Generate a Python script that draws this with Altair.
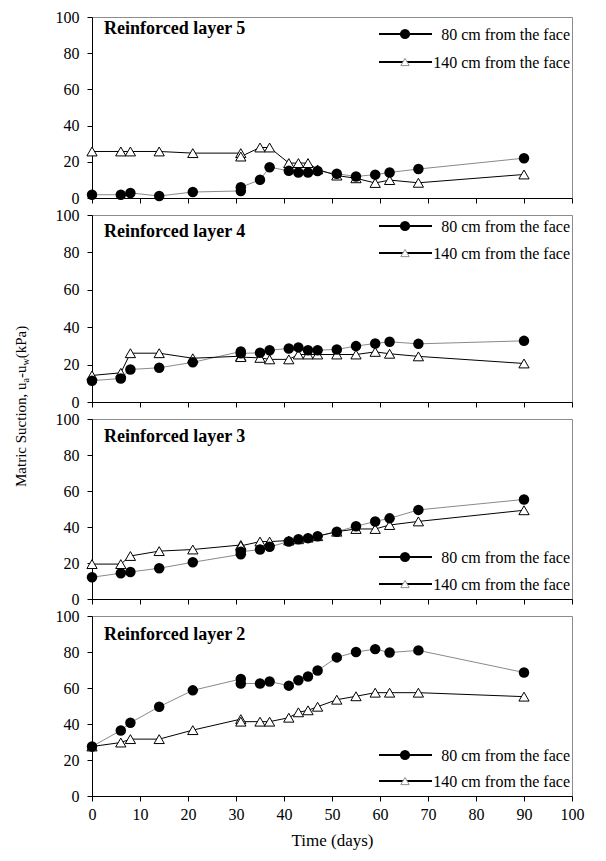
import altair as alt
import pandas as pd

FONT = "Liberation Serif"

days = [0, 6, 8, 14, 21, 31, 31, 35, 37, 41, 43, 45, 47, 51, 55, 59, 62, 68, 90]

l5_80 = [1.8, 1.8, 2.8, 1.1, 3.3, 3.9, 5.9, 10.1, 17.0, 15.0, 14.1, 14.1, 14.9, 13.4, 11.9, 12.9, 14.1, 16.0, 22.0]
l5_140 = [25.7, 25.7, 25.7, 25.7, 24.8, 24.8, 22.9, 27.9, 27.9, 19.3, 19.3, 19.3, 15.8, 12.4, 10.9, 8.3, 9.9, 8.4, 13.0]

l4_80 = [11.4, 12.6, 17.4, 18.3, 21.2, 27.0, 26.0, 26.3, 27.7, 28.6, 29.2, 27.7, 27.7, 28.1, 29.9, 31.3, 32.2, 31.1, 32.7]
l4_140 = [14.2, 15.6, 26.1, 26.1, 23.4, 24.5, 24.0, 23.6, 22.8, 22.8, 25.4, 25.4, 25.4, 25.4, 25.4, 26.8, 25.8, 24.4, 20.6]

l3_80 = [12.1, 14.3, 15.0, 17.1, 20.4, 24.8, 26.2, 27.5, 29.0, 31.9, 33.2, 33.8, 34.9, 37.4, 40.4, 43.1, 44.8, 49.5, 55.3]
l3_140 = [19.4, 19.4, 23.9, 26.6, 27.5, 30.0, 29.5, 31.9, 31.9, 32.5, 33.2, 34.1, 34.9, 37.4, 38.9, 38.9, 41.1, 43.1, 49.3]

l2_80 = [27.5, 36.4, 40.7, 49.6, 58.7, 65.0, 62.5, 62.5, 63.6, 61.3, 64.3, 66.4, 69.7, 77.0, 80.0, 81.6, 79.7, 80.9, 68.6]
l2_140 = [27.5, 29.7, 31.6, 31.6, 36.6, 42.7, 41.3, 41.3, 41.3, 43.5, 46.5, 47.6, 49.6, 53.5, 55.4, 57.4, 57.4, 57.4, 55.2]

panel_titles = ["Reinforced layer 5", "Reinforced layer 4", "Reinforced layer 3", "Reinforced layer 2"]
legend_labels = ["80 cm from the face", "140 cm from the face"]
x_ticks = list(range(0, 101, 10))
y_ticks = list(range(0, 101, 20))

# y title pieces: (text, font size, is subscript)
ytitle_parts = [("Matric Suction, u", 15, False), ("a", 10, True), ("-u", 15, False),
                ("w", 10, True), ("(kPa)", 15, False)]
# Times/Liberation Serif advance widths (1/1000 em)
W = {"M": 889, "a": 444, "t": 278, "r": 333, "i": 278, "c": 444, " ": 250, "S": 556,
     "u": 500, "o": 500, "n": 500, ",": 250, "-": 333, "w": 722, "(": 333, "k": 500,
     "P": 556, ")": 333}


def text_width(s, size):
    return sum(W.get(ch, 500) for ch in s) * size / 1000.0


def panel(v80, v140, title, height, title_y, leg_y, bottom=False, ytitle_start=None):
    d80 = pd.DataFrame({"day": days, "value": v80, "order": range(len(days))})
    d140 = pd.DataFrame({"day": days, "value": v140, "order": range(len(days))})
    x = alt.X("day:Q", scale=alt.Scale(domain=[0, 100], nice=False),
              axis=alt.Axis(values=x_ticks, labels=bottom, title="Time (days)" if bottom else None,
                            labelFontSize=16, titleFontSize=17, labelPadding=5, titlePadding=10,
                            labelFlush=False))
    y = alt.Y("value:Q", scale=alt.Scale(domain=[0, 100], nice=False),
              axis=alt.Axis(values=y_ticks, title=None, labelFontSize=16, labelPadding=8))
    line80 = alt.Chart(d80).mark_line(color="#8a8a8a", strokeWidth=1).encode(x=x, y=y, order="order:Q")
    line140 = alt.Chart(d140).mark_line(color="black", strokeWidth=1).encode(x=x, y=y, order="order:Q")
    pts140 = alt.Chart(d140).mark_point(shape="triangle-up", size=105, fill="white", fillOpacity=1,
                                        stroke="black", strokeWidth=1, opacity=1).encode(x=x, y=y)
    pts80 = alt.Chart(d80).mark_point(shape="circle", size=110, filled=True, color="black",
                                      opacity=1).encode(x=x, y=y)
    ttl = alt.Chart(pd.DataFrame({"t": [title]})).mark_text(
        align="left", baseline="alphabetic", font=FONT, fontSize=18, fontWeight="bold", color="black"
    ).encode(x=alt.value(12), y=alt.value(title_y), text="t:N")

    layers = [line80, line140, pts140, pts80, ttl]
    # legend
    for i, lab in enumerate(legend_labels):
        ld = pd.DataFrame({"t": [lab]})
        yy = leg_y[i]
        rule = alt.Chart(ld).mark_rule(color="black", strokeWidth=2).encode(
            x=alt.value(287), x2=alt.value(340), y=alt.value(yy))
        if i == 0:
            sym = alt.Chart(ld).mark_point(shape="circle", size=105, filled=True, color="black",
                                           opacity=1).encode(x=alt.value(313), y=alt.value(yy))
        else:
            sym = alt.Chart(ld).mark_point(shape="triangle-up", size=70, fill="white", fillOpacity=1,
                                           stroke="#909090", strokeWidth=1, opacity=1).encode(
                x=alt.value(313), y=alt.value(yy))
        txt = alt.Chart(ld).mark_text(align="right", baseline="middle", font=FONT, fontSize=16,
                                      color="black").encode(x=alt.value(478), y=alt.value(yy + 1),
                                                            text="t:N")
        layers += [rule, sym, txt]

    if ytitle_start is not None:
        pos = float(ytitle_start)
        bx = -66.0
        for s, fs, sub in ytitle_parts:
            td = pd.DataFrame({"t": [s]})
            layers.append(alt.Chart(td).mark_text(
                align="left", baseline="alphabetic", angle=270, font=FONT, fontSize=fs, color="black"
            ).encode(x=alt.value(bx + (3 if sub else 0)), y=alt.value(pos), text="t:N"))
            pos -= text_width(s, fs)

    return alt.layer(*layers).properties(width=480, height=height)


p1 = panel(l5_80, l5_140, panel_titles[0], 181, 17, [17, 45])
p2 = panel(l4_80, l4_140, panel_titles[1], 187, 22, [11, 38])
p3 = panel(l3_80, l3_140, panel_titles[2], 180, 23, [138, 165], ytitle_start=68)
p4 = panel(l2_80, l2_140, panel_titles[3], 180, 24, [139, 165], bottom=True)

chart = alt.vconcat(p1, p2, p3, p4, spacing=17, bounds="flush").properties(
    padding={"left": 5, "top": 0, "right": 5, "bottom": 5}
).configure_view(stroke="#8c8c8c", strokeWidth=1).configure_axis(
    labelFont=FONT, titleFont=FONT, labelColor="black", titleColor="black", titleFontWeight="normal",
    domainColor="black", tickColor="black", tickSize=5, grid=False, domainWidth=1, tickWidth=1
)

chart.save("out.html", embed_options={"renderer": "svg", "actions": False})
